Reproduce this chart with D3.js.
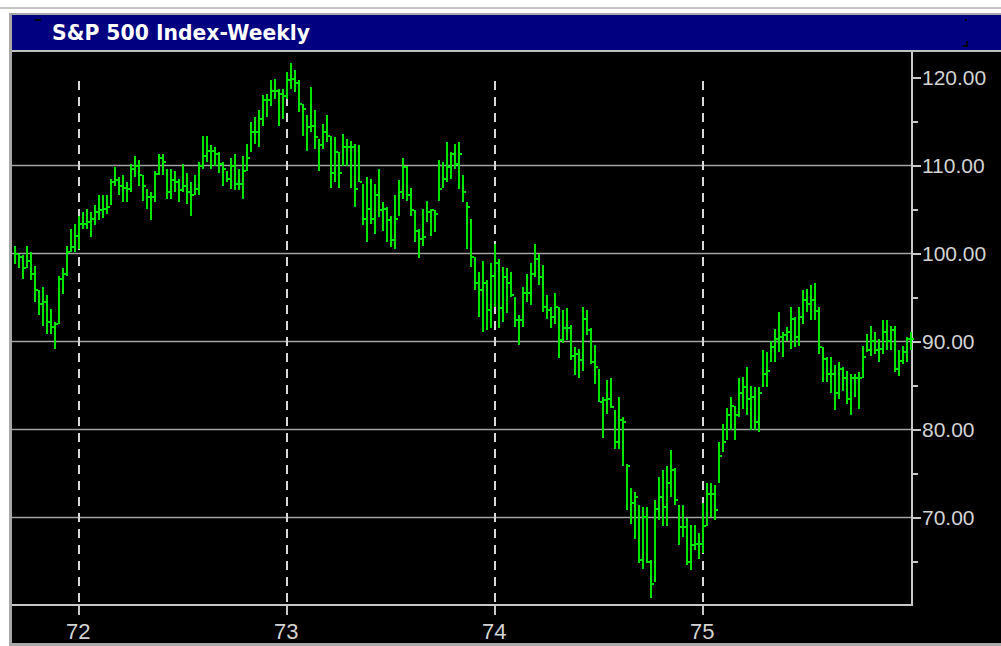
<!DOCTYPE html>
<html>
<head>
<meta charset="utf-8">
<script src="https://cdn.jsdelivr.net/npm/d3@7"></script>
<style>
  html, body { margin: 0; padding: 0; background: #fff; overflow: hidden; }
  svg { display: block; }
</style>
</head>
<body>
<svg id="chart" width="1001" height="646"></svg>
<script>
/** S&P 500 weekly high / low / close bars, Sept 1971 - Dec 1975 */
const title = "S&P 500 Index-Weekly";
const firstWeek = "1971-09-15";

const highs = [
  100.9, 100, 99.8, 100.9, 100.2, 98.6, 95.8, 96.2, 95.3, 93.7,
  92.2, 97.5, 98.3, 100.9, 102.8, 103.4, 104.3, 104.7, 105.1, 104.7,
  105.5, 106.6, 106.6, 106.6, 108.5, 109.8, 108.7, 108.9, 108.1, 110.2,
  111.1, 110.6, 108.9, 107.3, 107, 109.4, 111.3, 111.3, 109.6, 109.6,
  109.4, 108.5, 110.2, 109.1, 108.1, 108.9, 110.4, 113.4, 113.4, 112.3,
  112.1, 111.5, 110.4, 109.4, 110.8,
  111.3, 109.6, 111.1, 112.5, 114.9, 115.5, 116.3, 118, 118.1, 119.7,
  119.8, 118.7, 118.7, 120.6, 121.7, 120.8, 119.7, 117, 115.7, 118.9,
  116.3, 113, 114.7, 115.7, 113.4, 113.2, 111.5, 113.6, 113, 112.8,
  112.5, 112.3, 107.9, 108.7, 108.5, 107.9, 109.6, 105.8, 105.3, 104.3,
  106.6, 108.3, 110.9, 110, 107.5, 104.9, 102.8, 105.1, 106, 105.1,
  104.9, 110.6, 110.4, 112.7, 111.5, 112.5, 112.7, 108.9, 105.8, 103.9,
  99.6, 97.9,
  99.2, 97, 98.9, 101.1, 99.4, 98.5, 98.3, 97.9, 95.1, 93,
  96.2, 97.7, 98.9, 101.1, 100, 98.7, 95.3, 93.9, 95.5, 93.9,
  93.6, 93.8, 91.9, 89.4, 89.2, 93.9, 93.6, 91.5, 89.6, 86.9,
  83.7, 85.6, 85.8, 82.2, 83.7, 81.4, 76.1, 73.3, 72.9, 71.4,
  71.2, 71.2, 65.2, 72, 74.6, 75.4, 75.9, 77.7, 75.6, 71.4,
  71.4, 69.9, 69.1, 69.1, 68.2, 71.6, 73.9, 73.9, 73.7, 78.6,
  80.6, 82.5, 83.7, 82.7, 85.8, 86, 87.1, 85, 84.8, 84.8,
  89, 88.8, 90.1, 91.4, 93.3, 91.1, 91.6, 93.9, 92.8, 93.9,
  95.8, 96, 96.4, 96.6, 93.9, 89.4, 88.2, 88.2, 87.3, 87.7,
  87.1, 86.7, 86.3, 86.3, 86.5, 89.5, 90.9, 91.8, 91.1, 90.3,
  92.4, 92.4, 91.8, 91.8, 89, 89.5, 90.5, 91.1
];

const lows = [
  98.8, 98.4, 97.1, 98.3, 97, 94.5, 93, 91.8, 90.9, 90.9,
  89.2, 92, 95.4, 97.5, 100.2, 100.2, 100.5, 102.8, 102.8, 101.9,
  103.2, 103.8, 104, 104.5, 105.5, 107.7, 106.6, 105.8, 105.8, 107,
  108.7, 107.7, 106, 105.1, 103.8, 105.8, 108.9, 108.9, 106.2, 106.2,
  107, 105.8, 107, 105.6, 104.3, 106.6, 106.6, 109.6, 110.4, 109.6,
  110, 109.2, 107.7, 108.1, 107.3,
  107.2, 107.2, 106.2, 109.4, 111.5, 112.5, 112.1, 114.5, 115.5, 116.8,
  117.6, 114.5, 115.3, 117.6, 118.7, 118.3, 116.1, 113.4, 111.7, 113.8,
  111.9, 109.4, 111.9, 112.7, 107.5, 108.1, 107.5, 110, 110, 107.5,
  105.3, 108.1, 103.2, 101.3, 103.4, 102.2, 104.1, 102.6, 101.3, 100.7,
  100.5, 104.3, 106.2, 106, 104.3, 101.3, 99.5, 100.9, 103.6, 102,
  102.4, 106, 107.5, 108.1, 108.5, 109.6, 107.3, 105.8, 100.5, 98.5,
  95.8, 92.8,
  91.1, 91.3, 91.5, 93.9, 91.5, 92.2, 93.2, 95.1, 91.7, 89.6,
  91.7, 94.5, 94.1, 97.3, 96.4, 93.4, 92.6, 91.5, 92, 88.1,
  89.8, 90.2, 87.9, 86.2, 85.8, 86.7, 90.7, 87.5, 85.2, 83.1,
  79, 81.8, 82.4, 77.8, 77.8, 75.9, 70.8, 69.3, 67.6, 64.8,
  64.2, 64.8, 60.8, 62.7, 69.7, 69, 69, 72.3, 71.4, 66.9,
  67.8, 64.6, 64, 66.3, 65.3, 66, 69, 70.1, 69.7, 73.9,
  77.4, 78.8, 79.9, 78.8, 81.4, 82.3, 81.6, 79.9, 79.9, 79.7,
  84.8, 84.8, 87.7, 87.7, 88.8, 88.2, 90.1, 89.2, 89.4, 89.5,
  92, 93.3, 92.4, 92.4, 88.6, 85.4, 85.4, 84.2, 82.2, 83.5,
  84.4, 82.9, 81.6, 83.7, 82.3, 85.8, 88.8, 88.4, 88.6, 87.7,
  88.6, 89, 89, 86.5, 86.1, 87.5, 87.7, 89
];

const closes = [
  100, 99.6, 98.3, 99.2, 97.7, 95.8, 94.3, 94.5, 92.2, 91.6,
  92, 97.1, 97.7, 100.2, 100.7, 102, 103.4, 103.4, 103.6, 103.9,
  104.7, 104.9, 105.1, 105.3, 108.1, 108.3, 107.7, 107.5, 107.3, 109.6,
  110, 108.9, 107.7, 106.4, 106.4, 109, 110.8, 110.4, 107, 108.3,
  108.1, 107.2, 107.7, 107, 106.6, 107.3, 110, 111.1, 111.7, 111.7,
  111.3, 110.2, 109.6, 108.5, 110,
  107.9, 107.9, 109.4, 110.8, 113.8, 113.8, 115.3, 117.4, 117.4, 118.5,
  118.5, 118.1, 117.9, 119.7, 119.8, 119.4, 117, 116.4, 114.4, 114.5,
  113.2, 112.3, 113.8, 113.4, 109.1, 111.5, 109.1, 112.1, 112.1, 112.1,
  107.3, 108.1, 103.9, 105.1, 103.9, 106.6, 104.9, 105.1, 103.8, 101.5,
  103.9, 107, 109.8, 106.6, 104.9, 102.6, 101.7, 101.9, 104.7, 104.9,
  104.5, 107.3, 108.5, 109.8, 111.3, 110.2, 111.3, 107, 105.3, 99.6,
  96.6, 95.9,
  96.6, 93.6, 97.5, 98.9, 93.8, 97.3, 96.6, 95.3, 92.4, 92.4,
  95.5, 95.5, 97.7, 99.4, 97.3, 93.9, 93.6, 92.8, 93.9, 90.2,
  91.5, 91.5, 88.3, 88.6, 87.9, 92.6, 91.3, 87.7, 87.1, 83.1,
  83.3, 83.5, 82.6, 78.6, 81.1, 80.9, 75.8, 71.6, 72.3, 65.2,
  70.1, 65, 62.5, 71, 72.3, 71.2, 73.9, 75.4, 72, 68.9,
  68.9, 65, 66.9, 67, 67, 69, 72.7, 72.7, 70.8, 77,
  78.6, 81.6, 82.7, 81.6, 84.2, 84.8, 83.5, 83.7, 80.8, 84.2,
  86.3, 86.7, 89.4, 90.3, 90.5, 90.7, 91.1, 92.6, 90.5, 92.8,
  94.7, 94.3, 94.7, 93.5, 89.4, 88, 86.3, 86.3, 84.2, 86.9,
  85.8, 83.5, 85.9, 85.9, 85.9, 88.2, 89, 90.1, 89, 89.2,
  91.1, 90.1, 91.3, 86.9, 87.8, 88.8, 90.3, 90.3
];

const priceTicks = [70, 80, 90, 100, 110, 120];
const halfTicks = [65, 75, 85, 95, 105, 115];
const gridLevels = [70, 80, 90, 100, 110];

const W = 1001;
const H = 646;
const plot = { left: 12, right: 912, top: 52, bottom: 605 };
const barColor = "#00e400";
const axisColor = "#c8c8c8";
const labelFont = '"Liberation Sans", Arial, sans-serif';

function main() {
  const svg = d3.select("#chart");
  const n = highs.length;
  const start = new Date(firstWeek + "T12:00:00");
  const dates = d3.range(n).map((i) => d3.timeDay.offset(start, 7 * i));
  // first bar of every new year gets a tick + dashed line
  const yearIdx = d3.range(1, n).filter(
    (i) => dates[i].getFullYear() !== dates[i - 1].getFullYear()
  );

  const x = d3.scaleLinear().domain([-0.7, n - 0.7]).range([plot.left, plot.right]);
  const y = d3.scaleLinear().domain([60, 120]).range([605.5, 77.5]);

  /** window chrome */
  svg.append("rect").attr("width", W).attr("height", H).attr("fill", "#fff");
  svg.append("rect").attr("x", 0).attr("y", 7).attr("width", W).attr("height", 2).attr("fill", "#c4c4c4");
  svg.append("rect").attr("x", 9).attr("y", 13).attr("width", W - 9).attr("height", H - 13).attr("fill", "#a8a8a8");
  svg.append("rect").attr("x", 12).attr("y", 15).attr("width", W - 12).attr("height", 35).attr("fill", "#000080");
  svg.append("rect").attr("x", 12).attr("y", 50).attr("width", W - 12).attr("height", 2).attr("fill", "#c0c0c0");
  svg.append("rect").attr("x", 12).attr("y", plot.top).attr("width", W - 12).attr("height", 591).attr("fill", "#000");

  // little dark specks in the caption bar
  svg.append("rect").attr("x", 35).attr("y", 19).attr("width", 6).attr("height", 2).attr("fill", "#000010");
  svg.append("rect").attr("x", 965).attr("y", 19).attr("width", 2).attr("height", 2).attr("fill", "#000010");
  svg.append("rect").attr("x", 966).attr("y", 41).attr("width", 2).attr("height", 6).attr("fill", "#000010");
  svg.append("rect").attr("x", 963).attr("y", 45).attr("width", 5).attr("height", 2).attr("fill", "#000010");

  svg.append("text")
    .attr("x", 52)
    .attr("y", 40)
    .attr("fill", "#fff")
    .attr("font-family", '"DejaVu Sans", Verdana, sans-serif')
    .attr("font-weight", "bold")
    .attr("font-size", 21)
    .attr("textLength", 258)
    .attr("lengthAdjust", "spacingAndGlyphs")
    .text(title);

  /** grid */
  svg.append("g")
    .selectAll("line")
    .data(gridLevels)
    .join("line")
    .attr("x1", plot.left)
    .attr("x2", plot.right)
    .attr("y1", (d) => y(d))
    .attr("y2", (d) => y(d))
    .attr("stroke", "#a4a4a4")
    .attr("stroke-width", 1.5);

  svg.append("g")
    .selectAll("line")
    .data(yearIdx)
    .join("line")
    .attr("x1", (i) => Math.round(x(i)))
    .attr("x2", (i) => Math.round(x(i)))
    .attr("y1", 81)
    .attr("y2", plot.bottom)
    .attr("stroke", "#d8d8d8")
    .attr("stroke-width", 2)
    .attr("stroke-dasharray", "9,7");

  /** right price axis */
  const yAxis = svg.append("g")
    .attr("transform", `translate(${plot.right},0)`)
    .call(d3.axisRight(y).tickValues(priceTicks).tickFormat(d3.format(".2f"))
      .tickSize(9).tickPadding(1).tickSizeOuter(0));
  const yMinor = svg.append("g")
    .attr("transform", `translate(${plot.right},0)`)
    .call(d3.axisRight(y).tickValues(halfTicks).tickFormat("")
      .tickSize(6).tickSizeOuter(0));

  /** bottom year axis */
  const xAxis = svg.append("g")
    .attr("transform", `translate(0,${plot.bottom})`)
    .call(d3.axisBottom(x).tickValues(yearIdx)
      .tickFormat((i) => d3.timeFormat("%y")(dates[i]))
      .tickSize(10).tickPadding(8).tickSizeOuter(0));

  [yAxis, yMinor, xAxis].forEach((g) => {
    g.select(".domain").remove();
    g.selectAll("line").attr("stroke", axisColor).attr("stroke-width", 2);
  });
  xAxis.selectAll("line").attr("transform", (i) => `translate(${Math.round(x(i)) - x(i) - 0.5},0)`);
  yAxis.selectAll("text").attr("fill", "#d4d4d4").attr("font-family", labelFont).attr("font-size", 21);
  xAxis.selectAll("text").attr("fill", "#d4d4d4").attr("font-family", labelFont).attr("font-size", 22)
    .attr("dx", -1);

  svg.append("line")
    .attr("x1", plot.right).attr("x2", plot.right)
    .attr("y1", plot.top).attr("y2", plot.bottom + 1)
    .attr("stroke", axisColor).attr("stroke-width", 2);
  svg.append("line")
    .attr("x1", plot.left).attr("x2", plot.right + 1)
    .attr("y1", plot.bottom).attr("y2", plot.bottom)
    .attr("stroke", axisColor).attr("stroke-width", 2);

  /** HLC bars */
  const bars = d3.range(n).map((i) => ({ i, h: highs[i], l: lows[i], c: closes[i] }));
  const g = svg.append("g").attr("fill", barColor).attr("shape-rendering", "crispEdges");
  g.selectAll("rect.range")
    .data(bars)
    .join("rect")
    .attr("class", "range")
    .attr("x", (d) => Math.round(x(d.i)) - 1)
    .attr("width", 2)
    .attr("y", (d) => Math.round(y(d.h)))
    .attr("height", (d) => Math.max(2, Math.round(y(d.l)) - Math.round(y(d.h))));
  g.selectAll("rect.close")
    .data(bars)
    .join("rect")
    .attr("class", "close")
    .attr("x", (d) => Math.round(x(d.i)) + 1)
    .attr("width", 2)
    .attr("y", (d) => Math.round(y(d.c)) - 1)
    .attr("height", 2);
}

main();
</script>
</body>
</html>
